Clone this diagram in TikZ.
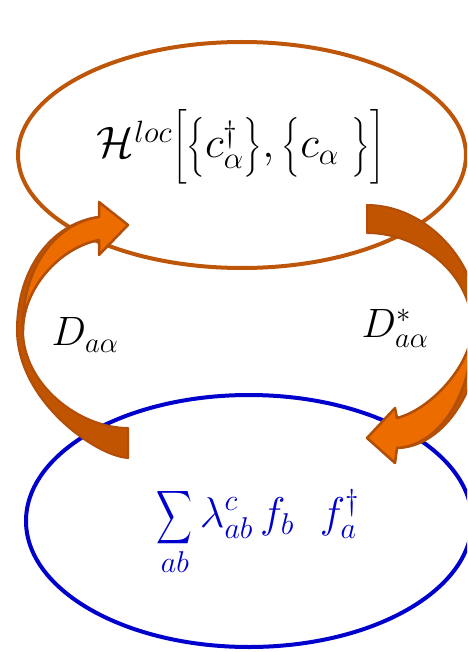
\RequirePackage{fix-cm}
\documentclass[tikz,border=0pt]{standalone}
\usepackage{exscale}
\usepackage{graphicx}
\usepackage{xcolor}
\usepackage{tikz}
\usetikzlibrary{shapes.geometric}
\definecolor{hlocbrown}{RGB}{190,86,10}
\definecolor{bathblue}{RGB}{0,0,204}
\definecolor{arrowlight}{RGB}{236,108,0}
\definecolor{arrowdark}{RGB}{192,84,0}
\definecolor{arrowrim}{RGB}{178,78,8}
\newcommand{\tallsum}{\mathop{\vcenter{\hbox{\scalebox{1.0}[1.5]{$\displaystyle\sum$}}}}\limits}

\begin{document}
\begin{tikzpicture}[x=1pt, y=-1pt,
        hring/.style={ellipse, draw=hlocbrown, line width=4pt, minimum width=448pt, minimum height=226pt},
        fring/.style={ellipse, draw=bathblue, line width=4pt, minimum width=446pt, minimum height=252pt},
        term/.style={inner sep=0pt, font=\fontsize{41}{49}\selectfont},
        back/.style={fill=arrowdark, draw=arrowrim, line width=2pt, line join=round},
        front/.style={fill=arrowlight, draw=arrowrim, line width=2.5pt, line join=round}]
    \useasboundingbox (0,0) rectangle (467,652);
    \clip (0,0) rectangle (467,652);

    \node [hring] (hloc) at (242,155) {};
    \node [fring] (bath) at (249,521) {};

    \node [term, font=\fontsize{44}{52}\selectfont] (hterm) at (241,147) {$\mathcal{H}^{loc}\Big[\big\{c^{\dagger}_{\alpha}\big\},\big\{c_{\alpha}\ \big\}\Big]$};
    \node [term, text=bathblue, font=\fontsize{43}{50}\selectfont] (fterm) at (258,531) {$\displaystyle\tallsum_{ab}\lambda^{c}_{ab}\,f_b\ \ f^{\dagger}_a$};
    \node [term] (dleft) at (85,335) {$D_{a\alpha}$};
    \node [term] (dright) at (395,328) {$D^{*}_{a\alpha}$};

    % left arrow, bath up to hloc
    \path [back] (128,458) .. controls (95,456) and (17,400) .. (17,330) .. controls (17,265) and (55,222) .. (99,217) -- (99,240) .. controls (58,248) and (23,290) .. (23,330) .. controls (23,385) and (80,428) .. (128,428) -- cycle;
    \path [front] (99,240) .. controls (58,248) and (23,290) .. (23,330) .. controls (21,270) and (55,223) .. (99,217) -- (99,202) -- (128,225) -- (99,255) -- cycle;

    % right arrow, hloc down to bath
    \path [back] (367,205) .. controls (425,205) and (480,260) .. (480,330) .. controls (480,395) and (440,448) .. (397,448) -- (397,418) .. controls (430,410) and (472,365) .. (472,328) .. controls (472,275) and (420,233) .. (367,233) -- cycle;
    \path [front] (397,418) .. controls (430,410) and (472,365) .. (472,328) .. controls (474,395) and (438,446) .. (397,448) -- (395,463) -- (367,438) -- (395,408) -- cycle;
\end{tikzpicture}
\end{document}
